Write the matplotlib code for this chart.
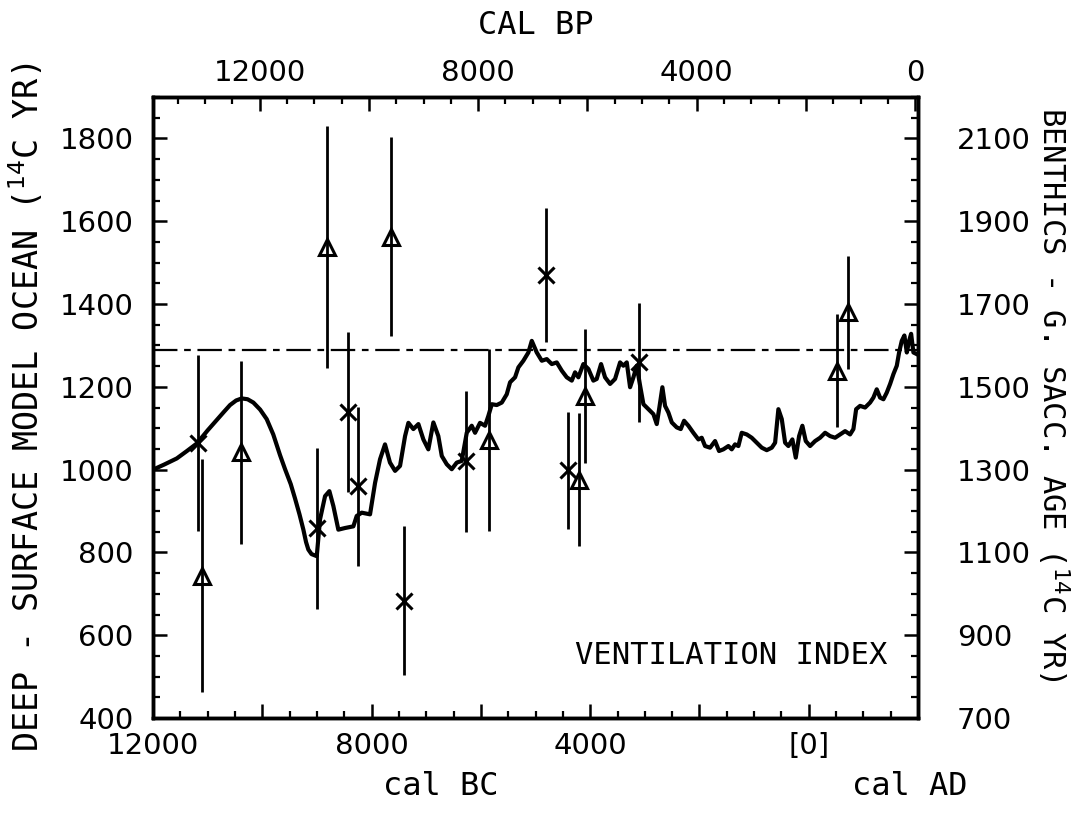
import numpy as np
import matplotlib
matplotlib.use("Agg")
import matplotlib.pyplot as plt
from matplotlib.ticker import MultipleLocator, FixedLocator, FuncFormatter

# ventilation index curve: calendar year (AD, negative = BC) vs deep-surface age
curve_year = [-12000, -11800, -11566, -11380, -11200, -11000, -10834, -10700, -10591, -10480,
              -10377, -10270, -10164, -10040, -9920, -9800, -9676, -9584, -9480, -9401,
              -9320, -9249, -9200, -9158, -9100, -9040, -9004, -8944, -8852, -8773,
              -8700, -8609, -8486, -8334, -8273, -8181, -8029, -7937, -7846, -7755,
              -7664, -7571, -7480, -7388, -7327, -7236, -7144, -7053, -6962, -6870,
              -6779, -6716, -6625, -6534, -6442, -6351, -6259, -6168, -6107, -6016,
              -5924, -5863, -5801, -5710, -5618, -5527, -5466, -5375, -5314, -5223,
              -5131, -5069, -4978, -4886, -4795, -4703, -4612, -4520, -4429, -4337,
              -4277, -4216, -4125, -4033, -3942, -3881, -3801, -3728, -3636, -3545,
              -3453, -3393, -3331, -3270, -3209, -3148, -3087, -3026, -2935, -2843,
              -2782, -2734, -2679, -2630, -2569, -2507, -2416, -2343, -2282, -2203,
              -2112, -2020, -1959, -1898, -1806, -1715, -1642, -1563, -1471, -1410,
              -1349, -1288, -1227, -1135, -1044, -952, -860, -769, -677, -616,
              -556, -494, -433, -373, -300, -238, -177, -117, -55, 24,
              116, 207, 299, 390, 482, 573, 665, 756, 817, 867,
              939, 1031, 1122, 1183, 1244, 1305, 1366, 1427, 1489, 1550,
              1611, 1653, 1702, 1750, 1794, 1836, 1873, 1915, 1976]
curve_val = [1000, 1012, 1027, 1045, 1063, 1095, 1120, 1140, 1156, 1167,
             1172, 1170, 1162, 1145, 1122, 1085, 1035, 1001, 965, 930,
             892, 855, 825, 807, 796, 793, 791, 880, 936, 948,
             912, 855, 859, 863, 888, 896, 892, 968, 1025, 1061,
             1017, 997, 1009, 1081, 1113, 1098, 1110, 1073, 1049, 1114,
             1081, 1033, 1013, 1001, 1017, 1021, 1089, 1106, 1089, 1113,
             1106, 1130, 1158, 1156, 1162, 1182, 1211, 1223, 1247, 1263,
             1283, 1311, 1283, 1263, 1267, 1255, 1259, 1239, 1223, 1215,
             1235, 1223, 1255, 1243, 1215, 1219, 1255, 1223, 1207, 1219,
             1259, 1251, 1259, 1199, 1223, 1251, 1203, 1158, 1146, 1134,
             1110, 1150, 1199, 1154, 1138, 1114, 1102, 1098, 1118, 1106,
             1089, 1073, 1077, 1057, 1053, 1069, 1045, 1049, 1057, 1049,
             1061, 1057, 1089, 1085, 1077, 1065, 1053, 1047, 1053, 1065,
             1146, 1122, 1065, 1057, 1073, 1029, 1081, 1106, 1069, 1057,
             1069, 1077, 1089, 1081, 1077, 1085, 1093, 1085, 1098, 1146,
             1154, 1150, 1162, 1174, 1194, 1174, 1170, 1186, 1207, 1231,
             1251, 1283, 1311, 1324, 1283, 1311, 1328, 1283, 1279]

# benthic - G. sacc. ages (left-axis units), crosses
cross_year = [-11182, -9004, -8437, -8243, -7401, -6277, -4813, -4399, -3100]
cross_val = [1064, 858, 1140, 960, 683, 1020, 1470, 998, 1259]
cross_err = [212, 195, 193, 192, 180, 170, 161, 141, 144]

# triangles
tri_year = [-11098, -10389, -8821, -7644, -5851, -4198, -4094, 513, 726]
tri_val = [744, 1042, 1538, 1563, 1071, 976, 1178, 1239, 1380]
tri_err = [281, 221, 292, 240, 220, 160, 162, 137, 137]

present_level = 1290

right_ticks = [700, 900, 1100, 1300, 1500, 1700, 1900, 2100]

mono = ["DejaVu Sans Mono"]
plt.rcParams["font.family"] = ["DejaVu Sans"]
plt.rcParams["mathtext.fontset"] = "dejavusans"

fig = plt.figure(figsize=(10.74, 8.14), dpi=100)
ax = fig.add_axes([0.1425, 0.1179, 0.7123, 0.7629])
axr = ax.twinx()
axt = ax.twiny()

ax.plot(curve_year, curve_val, color="black", lw=3.0, solid_joinstyle="round", zorder=3)
ax.axhline(present_level, color="black", lw=1.6, linestyle=(0, (11, 3, 3, 3)), zorder=2)

ax.errorbar(cross_year, cross_val, yerr=cross_err, fmt="x", color="black",
            ms=11, mew=2.2, elinewidth=2.0, capsize=0, zorder=4)
ax.errorbar(tri_year, tri_val, yerr=tri_err, fmt="^", color="black", mfc="none",
            ms=11, mew=2.2, elinewidth=2.0, capsize=0, zorder=4)

ax.set_xlim(-12000, 2000)
ax.set_ylim(400, 1900)
axr.set_ylim(700, 2200)
axt.set_xlim(1950 + 12000, 1950 - 2000)

for a in (ax, axr, axt):
    for s in a.spines.values():
        s.set_linewidth(2.4)

ax.xaxis.set_major_locator(MultipleLocator(2000))
ax.xaxis.set_minor_locator(MultipleLocator(500))
ax.xaxis.set_major_formatter(FuncFormatter(
    lambda v, p: ("[0]" if v == 0 else f"{abs(v):.0f}") if v % 4000 == 0 else ""))
ax.yaxis.set_major_locator(MultipleLocator(200))
ax.yaxis.set_minor_locator(MultipleLocator(50))

axt.xaxis.set_major_locator(MultipleLocator(2000))
axt.xaxis.set_minor_locator(MultipleLocator(500))
axt.xaxis.set_major_formatter(FuncFormatter(
    lambda v, p: f"{v:.0f}" if v % 4000 == 0 else ""))

axr.yaxis.set_major_locator(FixedLocator(right_ticks))
axr.yaxis.set_minor_locator(MultipleLocator(50))

for a in (ax, axr, axt):
    a.tick_params(which="major", direction="in", length=10, width=1.8, labelsize=21)
    a.tick_params(which="minor", direction="in", length=5, width=1.6)
ax.tick_params(axis="y", pad=14)
ax.tick_params(axis="x", pad=10)
axt.tick_params(axis="x", pad=7)
axr.tick_params(axis="y", pad=28)
for lbl in axr.get_yticklabels():
    lbl.set_horizontalalignment("left")

ax.set_ylabel(r"DEEP - SURFACE MODEL OCEAN ($^{14}$C YR)", fontsize=24,
              family=mono, labelpad=10)
fig.text(0.981, 0.515, r"BENTHICS - G. SACC. AGE ($^{14}$C YR)", fontsize=22,
         family=mono, rotation=-90, ha="center", va="center")
axt.set_xlabel("CAL BP", fontsize=23, family=mono, labelpad=18)

fig.text(0.41, 0.015, "cal BC", fontsize=23, family=mono, ha="center", va="bottom")
fig.text(0.847, 0.015, "cal AD", fontsize=23, family=mono, ha="center", va="bottom")
ax.text(0.96, 0.1, "VENTILATION INDEX", transform=ax.transAxes, fontsize=22,
        family=mono, ha="right", va="center")

fig.savefig("out.png", dpi=100, facecolor="white")
